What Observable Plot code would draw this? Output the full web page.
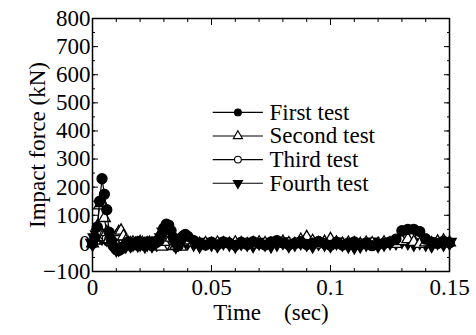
<!DOCTYPE html>
<html>
<head>
<meta charset="utf-8">
<script src="https://cdn.jsdelivr.net/npm/d3@7"></script>
<script src="https://cdn.jsdelivr.net/npm/@observablehq/plot@0.6"></script>
<style>
  html, body { margin: 0; padding: 0; background: #fff; font-family: "Liberation Serif"; }
  #chart { width: 476px; height: 335px; }
</style>
</head>
<body>
<div id="chart"></div>
<script>
// Time (sec)
const time = [
  0, 0.001, 0.002, 0.003, 0.004, 0.005, 0.006, 0.007, 0.008, 0.009,
  0.010, 0.011, 0.012, 0.013, 0.014, 0.015, 0.016, 0.017, 0.018, 0.019,
  0.020, 0.021, 0.022, 0.023, 0.024, 0.025, 0.026, 0.027, 0.028, 0.029,
  0.030, 0.031, 0.032, 0.033, 0.034, 0.035, 0.036, 0.037, 0.038, 0.039,
  0.040,
  0.0425, 0.045, 0.0475, 0.05, 0.0525, 0.055, 0.0575, 0.06, 0.0625, 0.065,
  0.0675, 0.07, 0.0725, 0.075, 0.0775, 0.08, 0.0825, 0.085, 0.0875, 0.09,
  0.0925, 0.095, 0.0975, 0.1, 0.1025, 0.105, 0.1075, 0.11, 0.1125, 0.115,
  0.1175, 0.12, 0.1225, 0.125, 0.1275, 0.13, 0.1325, 0.135, 0.1375, 0.14,
  0.1425, 0.145, 0.1475, 0.15
];

// Impact force (kN)
const firstTest = [
  0, 20, 58, 150, 230, 175, 120, 40, 10, -12,
  -22, -25, -20, -12, -5, 5, 2, -6, 0, 6,
  2, -5, 0, 5, 1, -6, 0, 4, 10, 30,
  55, 68, 65, 45, 20, 5, -8, 10, 25, 32,
  25,
  10, 0, -6, 4, -5, 5, 0, -7, 4, -4,
  6, 0, -6, 5, 10, 2, -5, 0, 6, -4,
  1, 7, 0, -7, 4, -6, 0, 5, -5, 1,
  -8, -4, 0, 5, 15, 45, 50, 50, 42, 15,
  3, 0, 8, 2
];
const secondTest = [
  0, 10, 60, 135, 143, 90, 40, 15, 5, 10,
  25, 40, 45, 25, 8, 2, 0, 3, -2, 0,
  4, 1, -3, 0, 2, -1, 0, -3, -8, -12,
  5, 30, 45, 20, -10, -8, 0, -12, 5, 15,
  10,
  3, -2, 0, -3, 2, 0, -2, 3, 0, -4,
  1, 3, 0, -2, 2, 5, 0, -3, 12, 22,
  8, 0, 5, 15, 3, -2, 2, 0, -3, 2,
  0, -2, 3, 0, -2, 8, 15, 5, -2, 3,
  0, 6, 10, 3
];
const thirdTest = [
  0, 15, 30, 25, 35, 30, 20, 15, 5, 0,
  -5, 0, 8, 5, 0, -3, 2, 0, -4, 0,
  3, -2, 1, 0, -3, 2, 0, 3, 15, 35,
  50, 40, 25, 10, 0, -5, 5, 20, 28, 20,
  10,
  5, 0, 2, -2, 0, 4, 1, -2, 0, 3,
  -2, 0, 2, -1, 3, 0, -3, 2, 0, 4,
  2, -2, 0, 3, 0, -2, 3, 0, -1, 2,
  0, -3, 1, 0, 8, 20, 28, 25, 30, 18,
  5, 2, 8, 0
];
const fourthTest = [
  0, 20, 30, 28, 22, 25, 18, 10, 0, -10,
  -20, -18, -10, 0, -6, 4, -5, 0, 6, -3,
  0, 5, -6, 0, 4, -5, 5, 0, 8, 20,
  40, 45, 35, 15, 2, -8, 0, 8, 15, 12,
  5,
  0, -6, 4, 0, -5, 5, 0, -6, 3, 0,
  -5, 4, 0, -6, 0, 6, -5, 0, 5, 0,
  -6, 3, 0, -5, 5, 0, -6, -10, -6, 0,
  5, -5, 0, 5, 5, 10, 5, 0, 6, 0,
  -5, 6, 0, 4
];

const seriesNames = ["First test", "Second test", "Third test", "Fourth test"];
const xTicks = [0, 0.05, 0.1, 0.15];
const xTickLabels = ["0", "0.05", "0.1", "0.15"];
const yTicks = [-100, 0, 100, 200, 300, 400, 500, 600, 700, 800];

const seriesValues = [firstTest, secondTest, thirdTest, fourthTest];
const styles = [
  {symbol: "circle", fill: "black", rotate: 0},
  {symbol: "triangle", fill: "white", rotate: 0},
  {symbol: "circle", fill: "white", rotate: 0},
  {symbol: "triangle", fill: "black", rotate: 180}
];

const rows = [];
seriesNames.forEach((name, s) => {
  time.forEach((t, i) => rows.push({series: name, s, t, v: seriesValues[s][i]}));
});

const font = "Liberation Serif";
const fs = 23;

// legend placement (data space of the chart)
const legend = seriesNames.map((name, i) => ({name, i}));
const legY = d => 466 - d.i * 84;
const legX0 = 0.0505, legX1 = 0.0716, legXm = 0.0611, legXt = 0.0744;

const marks = [];
for (let s = seriesNames.length - 1; s >= 0; s--) {
  const data = rows.filter(r => r.s === s);
  marks.push(Plot.line(data, {x: "t", y: "v", stroke: "black", strokeWidth: 1.2}));
  marks.push(Plot.dot(data, {x: "t", y: "v", r: s === 0 || s === 3 ? 5 : 4.4, symbol: styles[s].symbol,
    fill: styles[s].fill, stroke: "black", strokeWidth: 1.3, rotate: styles[s].rotate}));
}
// legend
marks.push(Plot.link(legend, {x1: legX0, x2: legX1, y1: legY, y2: legY, stroke: "black", strokeWidth: 1.2}));
legend.forEach((d, i) => {
  marks.push(Plot.dot([d], {x: legXm, y: legY, r: 3.4, symbol: styles[i].symbol,
    fill: styles[i].fill, stroke: "black", strokeWidth: 1.1, rotate: styles[i].rotate}));
});
marks.push(Plot.text(legend, {x: legXt, y: legY, text: "name", textAnchor: "start",
  fontSize: fs, fontFamily: font, fill: "black"}));

const minorX = d3.range(0, 16).map(i => i / 100);
const minorY = d3.range(-2, 17).map(i => i * 50);
marks.push(
  Plot.axisX({anchor: "bottom", ticks: minorX, tickSize: -3, tickFormat: () => "", label: null}),
  Plot.axisX({anchor: "top", ticks: minorX, tickSize: -3, tickFormat: () => "", label: null}),
  Plot.axisX({anchor: "bottom", ticks: xTicks, tickSize: -6, tickFormat: () => "", label: null}),
  Plot.axisX({anchor: "top", ticks: xTicks, tickSize: -6, tickFormat: () => "", label: null}),
  Plot.axisY({anchor: "left", ticks: minorY, tickSize: -3, tickFormat: () => "", label: null}),
  Plot.axisY({anchor: "right", ticks: minorY, tickSize: -3, tickFormat: () => "", label: null}),
  Plot.axisY({anchor: "left", ticks: yTicks, tickSize: -6, tickFormat: () => "", label: null}),
  Plot.axisY({anchor: "right", ticks: yTicks, tickSize: -6, tickFormat: () => "", label: null}),
  Plot.axisX({anchor: "bottom", ticks: xTicks, tickSize: 0, tickPadding: 7,
    tickFormat: (d, i) => xTickLabels[i],
    label: "Time\u2003(sec)", labelAnchor: "center", labelOffset: 48, labelArrow: "none"}),
  Plot.axisY({anchor: "left", ticks: yTicks, tickSize: 0, tickPadding: 2,
    label: "Impact force (kN)", labelAnchor: "center", labelOffset: 64, labelArrow: "none"}),
  Plot.frame({stroke: "black", strokeWidth: 1.5})
);

const chart = Plot.plot({
  width: 476,
  height: 335,
  marginLeft: 92,
  marginRight: 27,
  marginTop: 18,
  marginBottom: 64,
  style: {fontFamily: font, fontSize: fs + "px", background: "white"},
  x: {domain: [0, 0.15], label: null},
  y: {domain: [-100, 800], label: null},
  marks
});
document.getElementById("chart").appendChild(chart);
</script>
</body>
</html>
